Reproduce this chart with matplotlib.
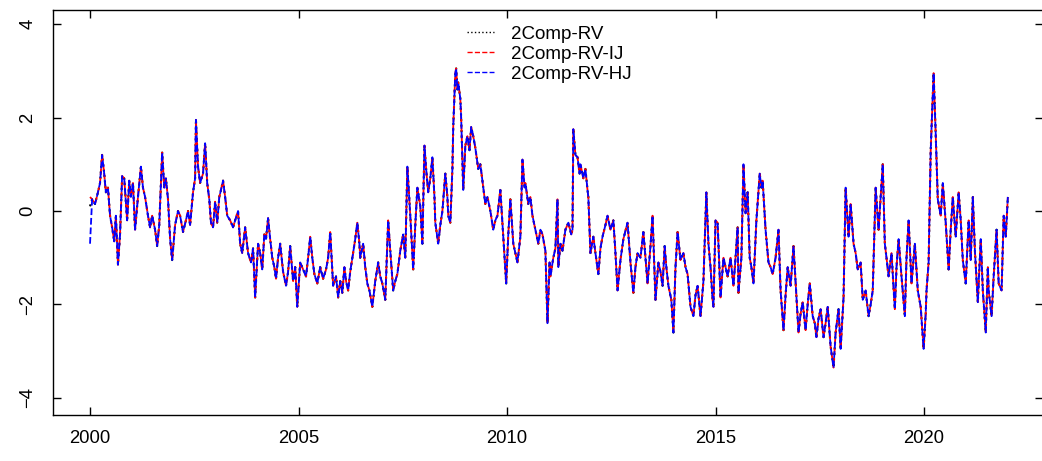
# ----------------------------------------------------------------------------------------------------------------------
import matplotlib
matplotlib.use("Agg")
import matplotlib.pyplot as plt
# ----------------------------------------------------------------------------------------------------------------------
"""
Data read off the reference picture (decimal years, standardised log-RV components)
"""
years = [
    2000.00, 2000.05, 2000.12, 2000.19, 2000.24, 2000.29, 2000.34, 2000.38, 2000.43, 2000.48, 2000.53, 2000.58,
    2000.62, 2000.65, 2000.67, 2000.72, 2000.77, 2000.82, 2000.89, 2000.94, 2000.98, 2001.03, 2001.08, 2001.15,
    2001.22, 2001.27, 2001.32, 2001.39, 2001.44, 2001.49, 2001.56, 2001.61, 2001.66, 2001.73, 2001.78, 2001.82,
    2001.87, 2001.92, 2001.97, 2002.04, 2002.11, 2002.16, 2002.23, 2002.30, 2002.35, 2002.40, 2002.47, 2002.52,
    2002.54, 2002.59, 2002.64, 2002.71, 2002.76, 2002.81, 2002.86, 2002.90, 2002.95, 2003.00, 2003.05, 2003.10,
    2003.14, 2003.19, 2003.24, 2003.29, 2003.36, 2003.43, 2003.48, 2003.55, 2003.60, 2003.65, 2003.72, 2003.79,
    2003.86, 2003.91, 2003.96, 2004.03, 2004.08, 2004.13, 2004.18, 2004.22, 2004.27, 2004.32, 2004.37, 2004.42,
    2004.46, 2004.51, 2004.56, 2004.63, 2004.70, 2004.75, 2004.80, 2004.87, 2004.92, 2004.97, 2005.04, 2005.11,
    2005.18, 2005.23, 2005.28, 2005.33, 2005.38, 2005.45, 2005.52, 2005.59, 2005.66, 2005.71, 2005.76, 2005.83,
    2005.90, 2005.95, 2006.00, 2006.05, 2006.10, 2006.14, 2006.19, 2006.24, 2006.31, 2006.36, 2006.41, 2006.46,
    2006.48, 2006.55, 2006.60, 2006.65, 2006.70, 2006.77, 2006.84, 2006.91, 2006.96, 2007.01, 2007.08, 2007.15,
    2007.20, 2007.27, 2007.32, 2007.37, 2007.44, 2007.51, 2007.56, 2007.61, 2007.66, 2007.68, 2007.75, 2007.80,
    2007.85, 2007.92, 2007.97, 2008.02, 2008.06, 2008.11, 2008.16, 2008.21, 2008.26, 2008.28, 2008.35, 2008.40,
    2008.45, 2008.52, 2008.57, 2008.59, 2008.64, 2008.69, 2008.71, 2008.76, 2008.78, 2008.81, 2008.83, 2008.88,
    2008.90, 2008.95, 2009.00, 2009.05, 2009.10, 2009.14, 2009.19, 2009.24, 2009.31, 2009.36, 2009.41, 2009.48,
    2009.53, 2009.60, 2009.67, 2009.72, 2009.77, 2009.84, 2009.91, 2009.98, 2010.03, 2010.08, 2010.15, 2010.20,
    2010.25, 2010.32, 2010.37, 2010.42, 2010.44, 2010.51, 2010.56, 2010.61, 2010.68, 2010.75, 2010.80, 2010.85,
    2010.92, 2010.97, 2011.02, 2011.04, 2011.11, 2011.16, 2011.21, 2011.23, 2011.28, 2011.33, 2011.40, 2011.47,
    2011.54, 2011.57, 2011.59, 2011.64, 2011.69, 2011.74, 2011.76, 2011.83, 2011.88, 2011.93, 2011.95, 2012.00,
    2012.07, 2012.12, 2012.19, 2012.24, 2012.29, 2012.36, 2012.41, 2012.48, 2012.55, 2012.60, 2012.65, 2012.72,
    2012.79, 2012.89, 2012.96, 2013.03, 2013.08, 2013.13, 2013.20, 2013.27, 2013.32, 2013.37, 2013.44, 2013.49,
    2013.56, 2013.63, 2013.68, 2013.73, 2013.78, 2013.82, 2013.87, 2013.94, 2013.99, 2014.04, 2014.09, 2014.16,
    2014.23, 2014.28, 2014.33, 2014.40, 2014.47, 2014.52, 2014.57, 2014.64, 2014.71, 2014.78, 2014.83, 2014.88,
    2014.93, 2014.95, 2015.00, 2015.05, 2015.12, 2015.19, 2015.24, 2015.29, 2015.36, 2015.43, 2015.48, 2015.53,
    2015.55, 2015.62, 2015.67, 2015.72, 2015.77, 2015.82, 2015.86, 2015.91, 2015.98, 2016.06, 2016.10, 2016.13,
    2016.20, 2016.27, 2016.32, 2016.37, 2016.44, 2016.51, 2016.56, 2016.63, 2016.68, 2016.73, 2016.80, 2016.87,
    2016.94, 2016.99, 2017.04, 2017.09, 2017.16, 2017.21, 2017.26, 2017.33, 2017.38, 2017.42, 2017.47, 2017.52,
    2017.59, 2017.64, 2017.69, 2017.76, 2017.83, 2017.88, 2017.95, 2018.00, 2018.07, 2018.12, 2018.19, 2018.24,
    2018.31, 2018.36, 2018.41, 2018.48, 2018.53, 2018.60, 2018.67, 2018.72, 2018.77, 2018.84, 2018.91, 2018.96,
    2019.01, 2019.06, 2019.10, 2019.15, 2019.22, 2019.30, 2019.34, 2019.39, 2019.46, 2019.54, 2019.58, 2019.63,
    2019.70, 2019.78, 2019.85, 2019.92, 2019.99, 2020.04, 2020.06, 2020.11, 2020.16, 2020.23, 2020.28, 2020.33,
    2020.40, 2020.45, 2020.52, 2020.59, 2020.64, 2020.69, 2020.76, 2020.83, 2020.88, 2020.93, 2021.00, 2021.07,
    2021.12, 2021.17, 2021.22, 2021.29, 2021.36, 2021.41, 2021.48, 2021.53, 2021.55, 2021.62, 2021.67, 2021.74,
    2021.79, 2021.86, 2021.91, 2021.96, 2022.01,
]

rv = [
    0.10, 0.25, 0.15, 0.40, 0.60, 1.20, 0.80, 0.40, 0.50, -0.10, -0.35, -0.65,
    -0.10, -0.75, -1.15, -0.50, 0.75, 0.70, -0.20, 0.65, 0.30, 0.60, -0.40, 0.30,
    0.95, 0.50, 0.30, -0.10, -0.35, -0.10, -0.40, -0.75, -0.30, 1.25, 0.50, 0.70,
    0.25, -0.60, -1.05, -0.30, 0.00, -0.10, -0.45, -0.20, 0.00, -0.30, 0.40, 0.70,
    1.95, 0.95, 0.60, 0.80, 1.45, 0.60, 0.25, -0.25, -0.35, 0.20, -0.25, 0.30,
    0.45, 0.65, 0.30, -0.10, -0.20, -0.35, -0.20, 0.00, -0.70, -0.90, -0.35, -0.90,
    -1.10, -0.80, -1.85, -0.70, -0.90, -1.25, -0.50, -0.60, -0.15, -0.60, -1.00, -1.20,
    -1.45, -1.00, -0.70, -1.30, -1.60, -1.30, -0.75, -1.50, -1.20, -2.05, -1.10, -1.25,
    -1.40, -1.00, -0.55, -1.00, -1.35, -1.55, -1.20, -1.45, -1.25, -1.00, -0.45, -1.60,
    -1.40, -1.85, -1.50, -1.75, -1.20, -1.50, -1.70, -1.30, -0.90, -0.60, -0.25, -0.70,
    -1.00, -0.70, -1.20, -1.55, -1.70, -2.05, -1.50, -1.10, -1.40, -1.55, -1.90, -0.20,
    -0.85, -1.70, -1.50, -1.35, -0.85, -0.50, -1.00, 0.95, 0.20, -0.10, -1.25, -0.30,
    0.50, 0.10, -0.70, 1.40, 0.90, 0.40, 0.70, 1.15, 0.30, -0.25, -0.70, -0.30,
    0.00, 0.80, 0.30, -0.10, -0.25, 0.90, 1.80, 2.95, 3.05, 2.60, 2.75, 2.40,
    2.00, 0.45, 1.40, 1.60, 1.30, 1.80, 1.60, 1.35, 0.90, 1.00, 0.65, 0.15,
    0.30, 0.00, -0.40, -0.20, -0.10, 0.45, -0.55, -1.55, -0.50, 0.25, -0.70, -0.90,
    -1.10, -0.55, 1.10, 0.50, 0.60, 0.15, 0.30, -0.10, -0.40, -0.70, -0.40, -0.50,
    -0.85, -2.40, -1.10, -1.40, -1.00, -0.80, 0.25, -1.20, -0.70, -0.85, -0.40, -0.25,
    -0.50, -0.40, 1.75, 1.20, 1.15, 0.80, 1.00, 0.70, 0.90, 0.45, 0.30, -0.90,
    -0.55, -0.90, -1.35, -0.80, -0.55, -0.30, -0.10, -0.40, -0.20, -0.90, -1.70, -1.05,
    -0.60, -0.25, -1.10, -1.75, -1.20, -0.90, -1.00, -0.45, -1.00, -1.55, -0.75, -0.10,
    -1.90, -1.10, -1.30, -1.60, -0.75, -1.20, -1.60, -1.90, -2.60, -1.20, -0.45, -1.05,
    -0.90, -1.20, -1.35, -2.05, -2.25, -1.80, -1.60, -2.25, -1.50, 0.40, -0.70, -1.20,
    -1.90, -2.05, -0.20, -0.25, -1.85, -1.00, -1.20, -1.40, -1.00, -1.60, -1.00, -0.35,
    -1.75, -1.00, 1.00, -0.05, 0.40, -1.00, -1.20, -1.55, -0.20, 0.80, 0.50, 0.65,
    -0.40, -1.10, -1.20, -1.35, -1.00, -0.40, -1.70, -2.55, -1.80, -1.20, -1.60, -0.75,
    -1.85, -2.60, -2.20, -1.95, -2.55, -2.00, -1.55, -2.25, -2.40, -2.70, -2.30, -2.10,
    -2.70, -2.40, -2.05, -2.90, -3.35, -2.60, -2.10, -2.95, -1.85, 0.50, -0.55, 0.15,
    -0.70, -0.90, -1.25, -1.10, -1.90, -1.70, -2.25, -2.00, -1.70, 0.50, -0.40, 0.30,
    1.00, -0.70, -1.00, -1.40, -0.90, -2.10, -1.20, -0.60, -1.40, -2.25, -1.00, -0.20,
    -1.55, -0.70, -1.70, -2.05, -2.95, -2.20, -1.70, -1.10, 1.30, 2.95, 1.65, 0.25,
    -0.10, 0.60, -0.25, -1.25, -0.40, 0.30, -0.55, 0.40, -0.20, -1.05, -1.55, -0.20,
    -1.05, 0.30, -0.85, -1.95, -0.60, -1.70, -2.60, -1.20, -1.70, -2.25, -1.40, -0.40,
    -1.55, -1.70, -0.10, -0.55, 0.30,
]

# the jump-robust variants sit on top of the plain series, apart from the first day
rv_ij = [0.30] + rv[1:]
rv_hj = [-0.70] + rv[1:]

labels = ["2Comp-RV", "2Comp-RV-IJ", "2Comp-RV-HJ"]
x_ticks = [2000, 2005, 2010, 2015, 2020]
y_ticks = [-4, -2, 0, 2, 4]
# ----------------------------------------------------------------------------------------------------------------------


def plot_data():
    plt.rcParams["font.family"] = ["Liberation Sans", "DejaVu Sans"]

    fig = plt.figure(figsize=(10.42, 4.61), dpi=100)
    ax = fig.add_axes([0.0509, 0.0998, 0.9501, 0.8785])

    # black dotted, red dashed, blue dashed - same order as in R
    ax.plot(years, rv, color="black", linestyle=":", linewidth=1.5, label=labels[0])
    ax.plot(years, rv_ij, color="red", linestyle="--", linewidth=1.3, label=labels[1])
    ax.plot(years, rv_hj, color="blue", linestyle="--", linewidth=1.3, label=labels[2])

    ax.set_xlim(1999.113, 2022.854)
    ax.set_ylim(-4.364, 4.30)
    ax.set_xticks(x_ticks)
    ax.set_yticks(y_ticks)

    ax.tick_params(axis="both", direction="in", length=6, width=1, labelsize=13.3,
                   top=True, right=True, colors="black")
    ax.tick_params(axis="x", pad=11)
    ax.tick_params(axis="y", pad=12, labelrotation=90)
    for lbl in ax.get_yticklabels():
        lbl.set_va("center")

    for side in ["left", "bottom", "top", "right"]:
        ax.spines[side].set_linewidth(1.0)

    leg = ax.legend(loc="upper left", bbox_to_anchor=(0.411, 0.98), frameon=False, fontsize=13.5,
                    handlelength=1.4, handletextpad=0.9, labelspacing=0.16, borderaxespad=0)
    for line in leg.get_lines():
        line.set_linewidth(1.0)

    fig.savefig("out.png", dpi=100)


# ----------------------------------------------------------------------------------------------------------------------
if __name__ == "__main__":
    plot_data()
